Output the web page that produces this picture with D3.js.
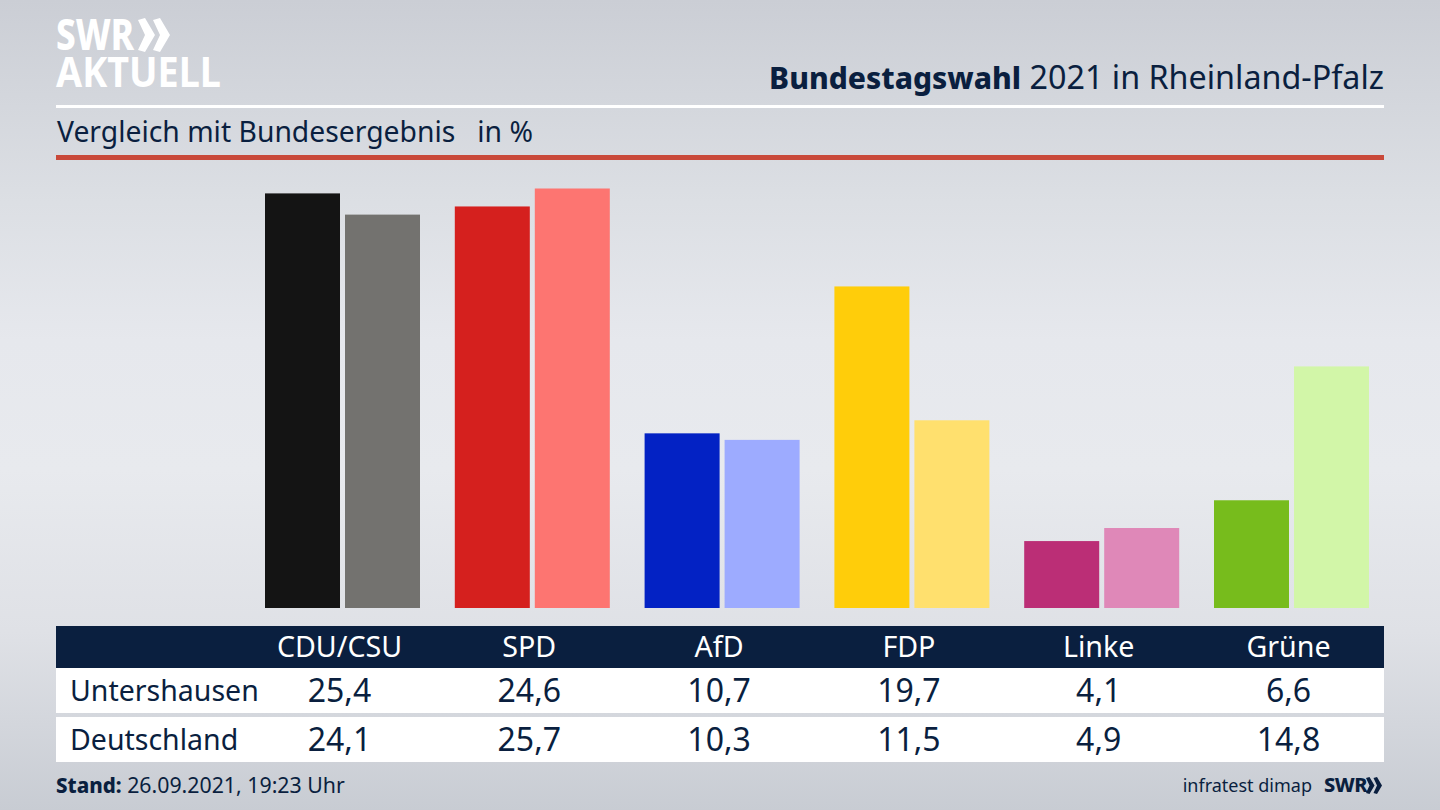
<!DOCTYPE html>
<html>
<head>
<meta charset="utf-8">
<script src="https://cdn.jsdelivr.net/npm/d3@7"></script>
<style>
html, body { margin: 0; padding: 0; background: #d5d8de; }
svg { display: block; }
text { font-family: "Noto Sans", sans-serif; fill: #0a1f3f; }
</style>
</head>
<body>
<svg id="chart" width="1440" height="810"></svg>
<script>
var parties = ["CDU/CSU", "SPD", "AfD", "FDP", "Linke", "Grüne"];
var regions = ["Untershausen", "Deutschland"];
var untershausen = [25.4, 24.6, 10.7, 19.7, 4.1, 6.6];
var deutschland = [24.1, 25.7, 10.3, 11.5, 4.9, 14.8];
var darkColors = ["#141414", "#d5201e", "#0322c4", "#ffcd0a", "#bb2e76", "#77bc1c"];
var lightColors = ["#73726f", "#fd7571", "#9dabff", "#ffe06e", "#df88b8", "#d2f6a8"];

var svg = d3.select("#chart");
var navy = "#0a1f3f";

// background
var defs = svg.append("defs");
var grad = defs.append("linearGradient")
    .attr("id", "bg")
    .attr("x1", 0).attr("y1", 0).attr("x2", 0).attr("y2", 1);
grad.append("stop").attr("offset", "0").attr("stop-color", "#cbced5");
grad.append("stop").attr("offset", "0.25").attr("stop-color", "#dcdfe4");
grad.append("stop").attr("offset", "0.42").attr("stop-color", "#e6e8ed");
grad.append("stop").attr("offset", "0.58").attr("stop-color", "#e8eaee");
grad.append("stop").attr("offset", "0.78").attr("stop-color", "#dfe1e6");
grad.append("stop").attr("offset", "1").attr("stop-color", "#c8ccd3");
svg.append("rect").attr("width", 1440).attr("height", 810).attr("fill", "url(#bg)");

// scales
var x = d3.scaleBand().domain(parties).range([244.6, 1383.4]);
var inner = d3.scaleBand().domain(regions).range([0, 155]).paddingInner(0.0625);
var y = d3.scaleLinear().domain([0, 25.7]).range([608, 188.5]);

var values = { "Untershausen": untershausen, "Deutschland": deutschland };
var colors = { "Untershausen": darkColors, "Deutschland": lightColors };

// bars
var groups = svg.append("g").attr("class", "bars")
    .selectAll("g")
    .data(parties)
    .enter()
    .append("g")
    .attr("transform", function (d) {
        return "translate(" + (x(d) + x.bandwidth() / 2 - 74.5) + ",0)";
    });

groups.selectAll("rect")
    .data(function (d, i) {
        return regions.map(function (r) {
            return { region: r, value: values[r][i], color: colors[r][i] };
        });
    })
    .enter()
    .append("rect")
    .attr("x", function (d) { return inner(d.region); })
    .attr("y", function (d) { return y(d.value); })
    .attr("width", inner.bandwidth())
    .attr("height", function (d) { return y(0) - y(d.value); })
    .attr("fill", function (d) { return d.color; });

// header
svg.append("rect").attr("x", 56).attr("y", 105).attr("width", 1328).attr("height", 3).attr("fill", "#fff");
svg.append("rect").attr("x", 56).attr("y", 155).attr("width", 1328).attr("height", 5).attr("fill", "#c9493a");

var title = svg.append("text")
    .attr("x", 1384).attr("y", 89)
    .attr("text-anchor", "end")
    .style("font-size", "32.3px");
title.append("tspan").style("font-weight", "800").style("font-size", "30px").text("Bundestagswahl");
title.append("tspan").text(" 2021 in Rheinland-Pfalz");

svg.append("text").attr("x", 57).attr("y", 142)
    .style("font-size", "28.3px")
    .attr("xml:space", "preserve")
    .text("Vergleich mit Bundesergebnis   in %");

// logo
svg.append("text").attr("x", 56).attr("y", 50)
    .attr("textLength", 78).attr("lengthAdjust", "spacingAndGlyphs")
    .style("font-size", "42px").style("font-weight", "800").style("fill", "#fff")
    .text("SWR");
svg.append("text").attr("x", 56).attr("y", 87)
    .attr("textLength", 165).attr("lengthAdjust", "spacingAndGlyphs")
    .style("font-size", "42px").style("font-weight", "700").style("fill", "#fff")
    .text("AKTUELL");
function chevrons(px, py, s, fill) {
    var shape = "M0,2 L7,0 L17,17 L7,34 L0,32 L7,17 Z";
    [0, 15].forEach(function (dx) {
        svg.append("path")
            .attr("d", shape)
            .attr("transform", "translate(" + (px + dx * s) + "," + py + ") scale(" + s + ")")
            .attr("fill", fill);
    });
}
chevrons(138, 18, 1, "#fff");

// table
svg.append("rect").attr("x", 56).attr("y", 626).attr("width", 1328).attr("height", 42).attr("fill", navy);
svg.append("rect").attr("x", 56).attr("y", 668).attr("width", 1328).attr("height", 45).attr("fill", "#fff");
svg.append("rect").attr("x", 56).attr("y", 717).attr("width", 1328).attr("height", 45).attr("fill", "#fff");

svg.append("g").selectAll("text")
    .data(parties)
    .enter()
    .append("text")
    .attr("x", function (d) { return x(d) + x.bandwidth() / 2; })
    .attr("y", 657)
    .attr("text-anchor", "middle")
    .style("font-size", "28.6px")
    .style("fill", "#fff")
    .text(function (d) { return d; });

var rowY = { "Untershausen": 701, "Deutschland": 750 };
regions.forEach(function (r) {
    svg.append("text").attr("x", 70).attr("y", rowY[r])
        .style("font-size", "28.5px")
        .text(r);
    svg.append("g").selectAll("text")
        .data(values[r])
        .enter()
        .append("text")
        .attr("x", function (d, i) { return x(parties[i]) + x.bandwidth() / 2; })
        .attr("y", rowY[r] + 1)
        .attr("text-anchor", "middle")
        .style("font-size", "32px")
        .text(function (d) { return d.toFixed(1).replace(".", ","); });
});

// footer
var stand = svg.append("text").attr("x", 56).attr("y", 793).style("font-size", "21.3px");
stand.append("tspan").style("font-weight", "800").style("font-size", "20.5px").text("Stand:");
stand.append("tspan").text(" 26.09.2021, 19:23 Uhr");

svg.append("text").attr("x", 1312).attr("y", 792)
    .attr("text-anchor", "end")
    .style("font-size", "18px")
    .text("infratest dimap");
svg.append("text").attr("x", 1324).attr("y", 792)
    .style("font-size", "20px").style("font-weight", "800")
    .style("letter-spacing", "-0.5px")
    .text("SWR");
chevrons(1366, 777, 0.5, navy);
</script>
</body>
</html>
